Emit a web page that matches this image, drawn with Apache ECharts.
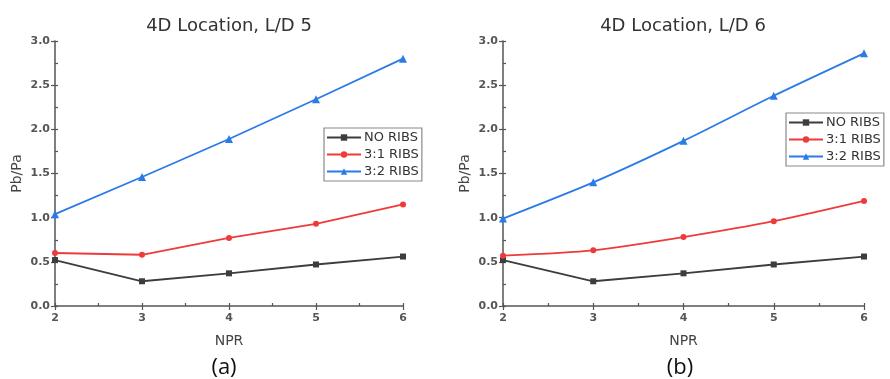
<!DOCTYPE html>
<html>
<head>
<meta charset="utf-8">
<style>
  html, body { margin: 0; padding: 0; background: #fff; }
  #chart { width: 890px; height: 379px; }
</style>
<script src="https://cdn.jsdelivr.net/npm/echarts@6/dist/echarts.min.js"></script>
</head>
<body>
<div id="chart"></div>
<script>
// Nozzle pressure ratio (x) and base pressure ratio Pb/Pa (y)
const npr = [2, 3, 4, 5, 6];
const seriesNames = ['NO RIBS', '3:1 RIBS', '3:2 RIBS'];

// 4D location, L/D 5
const ld5NoRibs = [0.52, 0.28, 0.37, 0.47, 0.56];
const ld5Ribs31 = [0.60, 0.58, 0.77, 0.93, 1.15];
const ld5Ribs32 = [1.04, 1.46, 1.89, 2.34, 2.80];

// 4D location, L/D 6
const ld6NoRibs = [0.52, 0.28, 0.37, 0.47, 0.56];
const ld6Ribs31 = [0.57, 0.63, 0.78, 0.96, 1.19];
const ld6Ribs32 = [0.99, 1.40, 1.87, 2.38, 2.86];

const panelTitles = ['4D Location, L/D 5', '4D Location, L/D 6'];
const panelTags = ['(a)', '(b)'];

const colors = ['#3d3d3d', '#f03a3a', '#2b7be6'];
const symbols = ['rect', 'circle', 'triangle'];
const symbolSizes = [6, 6, 8];
const font = '"DejaVu Sans", "Liberation Sans", sans-serif';

const grids = [
  { left: 55, width: 348, top: 41, height: 265 },
  { left: 503, width: 361, top: 41, height: 265 }
];

function pairs(ys) { return npr.map((x, i) => [x, ys[i]]); }

const xAxes = [], yAxes = [];
grids.forEach((g, gi) => {
  // main axes
  xAxes.push({
    type: 'value', gridIndex: gi, min: 2, max: 6, interval: 1,
    name: 'NPR', nameLocation: 'middle', nameGap: 28,
    nameTextStyle: { fontFamily: font, fontSize: 14, color: '#444' },
    axisLine: { lineStyle: { color: '#555', width: 1.5 } },
    axisTick: { length: 4, lineStyle: { color: '#555', width: 1.2 } },
    axisLabel: { fontFamily: font, fontSize: 11, color: '#555', fontWeight: 'bold', margin: 7 },
    splitLine: { show: false }
  });
  yAxes.push({
    type: 'value', gridIndex: gi, min: 0, max: 3, interval: 0.5,
    name: 'Pb/Pa', nameLocation: 'middle', nameGap: 31,
    nameTextStyle: { fontFamily: font, fontSize: 14, color: '#444' },
    axisLine: { show: true, lineStyle: { color: '#555', width: 1.5 } },
    axisTick: { show: true, length: 4, lineStyle: { color: '#555', width: 1.2 } },
    axisLabel: { fontFamily: font, fontSize: 11, color: '#555', fontWeight: 'bold', margin: 5,
      formatter: v => v.toFixed(1) },
    splitLine: { show: false }
  });
  // inner minor ticks
  xAxes.push({
    type: 'value', gridIndex: gi, min: 2, max: 6, interval: 0.5, position: 'bottom',
    axisLine: { show: false }, axisLabel: { show: false }, splitLine: { show: false },
    axisTick: { inside: true, length: 3, lineStyle: { color: '#555', width: 1.2 } }
  });
  yAxes.push({
    type: 'value', gridIndex: gi, min: 0, max: 3, interval: 0.25, position: 'left',
    axisLine: { show: false }, axisLabel: { show: false }, splitLine: { show: false },
    axisTick: { show: true, inside: true, length: 3, lineStyle: { color: '#555', width: 1.2 } }
  });
});

const panelData = [
  [ld5NoRibs, ld5Ribs31, ld5Ribs32],
  [ld6NoRibs, ld6Ribs31, ld6Ribs32]
];

const series = [];
panelData.forEach((sets, gi) => {
  sets.forEach((ys, si) => {
    series.push({
      name: seriesNames[si], type: 'line',
      xAxisIndex: gi * 2, yAxisIndex: gi * 2,
      data: pairs(ys),
      smooth: gi === 1 && si > 0 ? 0.25 : false,
      symbol: symbols[si], symbolSize: symbolSizes[si],
      lineStyle: { color: colors[si], width: 1.8 },
      itemStyle: { color: colors[si] },
      clip: false
    });
  });
});

const legendBase = {
  orient: 'vertical', data: seriesNames, itemWidth: 34, itemHeight: 8, itemGap: 4,
  borderColor: '#8a8a8a', borderWidth: 1.2, padding: [3, 3, 3, 2],
  textStyle: { fontFamily: font, fontSize: 13, color: '#333', padding: [0, 0, 0, -2] }
};

const chart = echarts.init(document.getElementById('chart'), null, { renderer: 'canvas' });
chart.setOption({
  backgroundColor: '#fff',
  animation: false,
  color: colors,
  title: [
    { text: panelTitles[0], left: 224, top: 12, textAlign: 'center',
      textStyle: { fontFamily: font, fontSize: 18, fontWeight: 'normal', color: '#333' } },
    { text: panelTitles[1], left: 678, top: 12, textAlign: 'center',
      textStyle: { fontFamily: font, fontSize: 18, fontWeight: 'normal', color: '#333' } },
    { text: panelTags[0], left: 219, top: 352, textAlign: 'center',
      textStyle: { fontFamily: '"Open Sans", sans-serif', fontSize: 22, fontWeight: 'normal', color: '#111' } },
    { text: panelTags[1], left: 675, top: 352, textAlign: 'center',
      textStyle: { fontFamily: '"Open Sans", sans-serif', fontSize: 22, fontWeight: 'normal', color: '#111' } }
  ],
  legend: [
    Object.assign({}, legendBase, { left: 324, top: 128 }),
    Object.assign({}, legendBase, { left: 786, top: 113 })
  ],
  grid: grids,
  xAxis: xAxes,
  yAxis: yAxes,
  series: series
});
</script>
</body>
</html>
